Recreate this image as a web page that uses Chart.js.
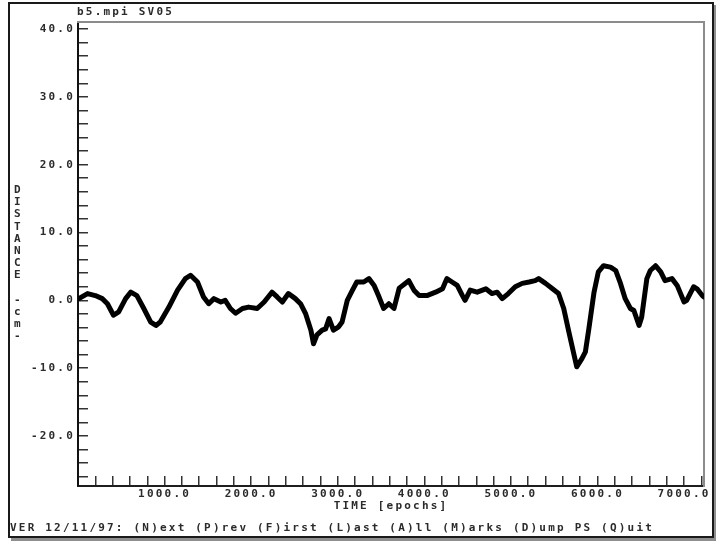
<!DOCTYPE html>
<html>
<head>
<meta charset="utf-8">
<title>b5.mpi SV05</title>
<script src="https://cdn.jsdelivr.net/npm/chart.js@4.4.1/dist/chart.umd.min.js"></script>
<style>
  html, body { margin: 0; padding: 0; background: #fff; }
  body { width: 716px; height: 541px; position: relative; overflow: hidden; }
  #plot { position: absolute; left: 0; top: 0; }
  .txt {
    position: absolute;
    font: bold 11px "DejaVu Sans Mono", monospace;
    letter-spacing: 2.2px;
    color: #2b2b2b;
    white-space: pre;
  }
  #frame {
    position: absolute; left: 8px; top: 2px; width: 706px; height: 536px;
    box-sizing: border-box; border: 2px solid #1a1a1a;
    box-shadow: 3px 3px 0 #8f8f8f; pointer-events: none;
  }
  #head { left: 77px; top: 5px; line-height: 14px; }
  #foot { left: 10px; top: 521px; line-height: 14px; }
  #ylab { left: 14px; top: 184px; line-height: 12.2px; letter-spacing: 0; }
</style>
</head>
<body>
<canvas id="plot" width="716" height="541"></canvas>
<div id="frame"></div>
<div class="txt" id="head">b5.mpi SV05</div>
<div class="txt" id="ylab">D
I
S
T
A
N
C
E
 
-
c
m
-</div>
<div class="txt" id="foot">VER 12/11/97: (N)ext (P)rev (F)irst (L)ast (A)ll (M)arks (D)ump PS (Q)uit</div>
<script>
// Distance trace over time (epochs)
const epochs = [
  10, 110, 200, 280, 340, 410, 470, 550, 610, 680, 760, 840, 900, 950,
  1050, 1150, 1240, 1300, 1380, 1450, 1510, 1570, 1650, 1700, 1760, 1820, 1900, 1970,
  2070, 2150, 2240, 2300, 2360, 2430, 2510, 2570, 2630, 2690, 2720, 2760, 2820, 2860, 2900, 2950,
  3010, 3050, 3110, 3170, 3220, 3300, 3360, 3420, 3470, 3530, 3590, 3650, 3710, 3820, 3880, 3940,
  4030, 4130, 4210, 4260, 4320, 4380, 4440, 4470, 4530, 4610, 4710, 4780, 4840, 4900, 4970,
  5050, 5130, 5210, 5280, 5320, 5400, 5480, 5550, 5610, 5670, 5730, 5760, 5820, 5860, 5900, 5960,
  6010, 6070, 6150, 6210, 6260, 6320, 6380, 6420, 6480, 6510, 6570, 6610, 6670, 6730, 6780, 6860, 6920,
  7000, 7030, 7110, 7150, 7210, 7230
];
const distance = [
  0.25, 1.0, 0.7, 0.25, -0.5, -2.2, -1.7, 0.25, 1.2, 0.7, -1.2, -3.2, -3.7, -3.2,
  -1.0, 1.5, 3.2, 3.7, 2.7, 0.5, -0.5, 0.25, -0.25, 0.0, -1.2, -1.9, -1.2, -1.0,
  -1.2, -0.25, 1.2, 0.5, -0.25, 1.0, 0.25, -0.5, -2.0, -4.4, -6.4, -5.1, -4.4, -4.2, -2.7, -4.4,
  -3.9, -3.2, 0.0, 1.5, 2.7, 2.7, 3.2, 2.2, 0.7, -1.2, -0.5, -1.2, 1.8, 2.9, 1.5, 0.7,
  0.7, 1.2, 1.7, 3.2, 2.7, 2.2, 0.7, 0.0, 1.5, 1.2, 1.7, 1.0, 1.2, 0.25, 1.0,
  2.0, 2.5, 2.7, 2.9, 3.2, 2.5, 1.7, 1.0, -1.2, -4.7, -8.1, -9.8, -8.6, -7.6, -4.2, 1.2,
  4.2, 5.1, 4.9, 4.4, 2.7, 0.25, -1.2, -1.5, -3.7, -2.5, 3.2, 4.4, 5.1, 4.2, 2.9, 3.2, 2.2,
  -0.25, 0.0, 2.0, 1.7, 0.7, 0.5
];

// Axis ticks: labelled majors and unlabelled minor marks
const xTickLabels = ['1000.0', '2000.0', '3000.0', '4000.0', '5000.0', '6000.0', '7000.0'];
const yTickLabels = ['40.0', '30.0', '20.0', '10.0', '0.0', '-10.0', '-20.0'];
const xMinorTicks = [0, 200, 400, 600, 800, 1000, 1200, 1400, 1600, 1800, 2000, 2200, 2400, 2600,
  2800, 3000, 3200, 3400, 3600, 3800, 4000, 4200, 4400, 4600, 4800, 5000, 5200, 5400, 5600,
  5800, 6000, 6200, 6400, 6600, 6800, 7000, 7200];
const yMinorTicks = [-26, -24, -22, -20, -18, -16, -14, -12, -10, -8, -6, -4, -2, 0, 2, 4, 6, 8,
  10, 12, 14, 16, 18, 20, 22, 24, 26, 28, 30, 32, 34, 36, 38, 40];

const X_MIN = 0, X_MAX = 7230;
const Y_MIN = -27.37, Y_MAX = 41.03;

const xMajor = xTickLabels.map(parseFloat);
const yMajor = yTickLabels.map(parseFloat);

const FONT = { family: '"DejaVu Sans Mono", monospace', size: 11, weight: 'bold' };
const INK = '#2b2b2b';

// wide terminal-style lettering for canvas text
const spacing = {
  id: 'spacing',
  beforeDraw(chart) { chart.ctx.letterSpacing = '2.2px'; }
};

new Chart(document.getElementById('plot'), {
  type: 'line',
  data: {
    datasets: [{
      data: epochs.map((e, i) => ({ x: e, y: distance[i] })),
      borderColor: '#000',
      borderWidth: 5,
      borderJoinStyle: 'round',
      borderCapStyle: 'round',
      pointRadius: 0,
      fill: false,
      tension: 0
    }]
  },
  options: {
    responsive: false,
    animation: false,
    devicePixelRatio: 1,
    layout: { padding: { left: 0, top: 22, right: 12, bottom: 28 } },
    plugins: { legend: { display: false }, tooltip: { enabled: false } },
    scales: {
      x: {
        type: 'linear', position: 'bottom', min: X_MIN, max: X_MAX,
        afterBuildTicks: s => { s.ticks = xMinorTicks.map(v => ({ value: v })); },
        afterFit: s => { s.height = 27; },
        grid: { drawOnChartArea: false, tickLength: -10, color: '#333', lineWidth: 1.5 },
        border: { display: true, color: '#1e1e1e', width: 2 },
        ticks: {
          autoSkip: false, maxRotation: 0, padding: 12, font: FONT, color: INK,
          callback: v => { const i = xMajor.indexOf(v); return i >= 0 ? xTickLabels[i] : ''; }
        },
        title: { display: true, text: 'TIME [epochs]', font: FONT, color: INK, padding: { top: 0, bottom: 0 } }
      },
      y: {
        type: 'linear', position: 'left', min: Y_MIN, max: Y_MAX,
        afterBuildTicks: s => { s.ticks = yMinorTicks.map(v => ({ value: v })); },
        afterFit: s => { s.width = 78; },
        grid: { drawOnChartArea: false, tickLength: -10, color: '#333', lineWidth: 1.5 },
        border: { display: true, color: '#111', width: 2 },
        ticks: {
          autoSkip: false, padding: 13, font: FONT, color: INK,
          callback: v => { const i = yMajor.indexOf(v); return i >= 0 ? yTickLabels[i] : ''; }
        }
      },
      x2: {
        type: 'linear', position: 'top', min: X_MIN, max: X_MAX,
        afterFit: s => { s.height = 0; },
        ticks: { display: false }, grid: { display: false },
        border: { display: true, color: '#8c8c8c', width: 2 }
      },
      y2: {
        type: 'linear', position: 'right', min: Y_MIN, max: Y_MAX,
        afterFit: s => { s.width = 0; },
        ticks: { display: false }, grid: { display: false },
        border: { display: true, color: '#8c8c8c', width: 2 }
      }
    }
  },
  plugins: [spacing]
});
</script>
</body>
</html>
